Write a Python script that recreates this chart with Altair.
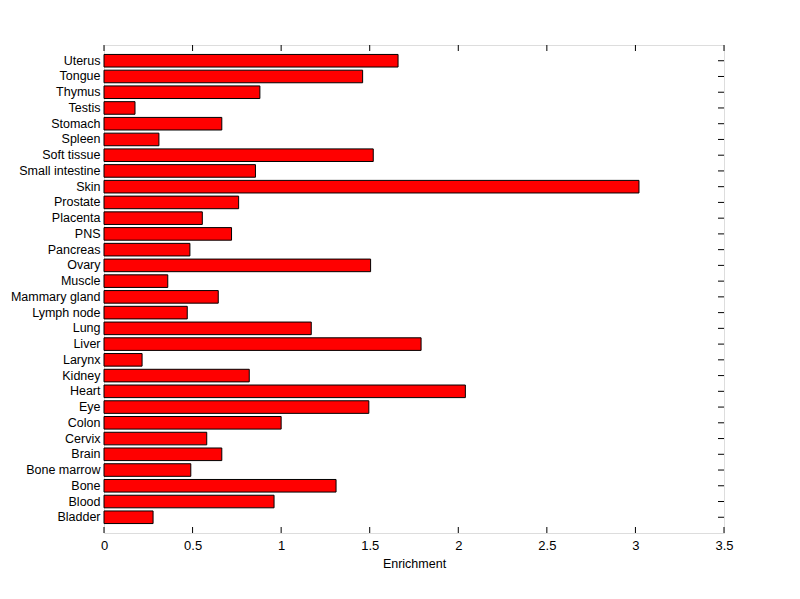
import altair as alt
import pandas as pd

tissues = ["Uterus", "Tongue", "Thymus", "Testis", "Stomach", "Spleen", "Soft tissue",
           "Small intestine", "Skin", "Prostate", "Placenta", "PNS", "Pancreas", "Ovary",
           "Muscle", "Mammary gland", "Lymph node", "Lung", "Liver", "Larynx", "Kidney",
           "Heart", "Eye", "Colon", "Cervix", "Brain", "Bone marrow", "Bone", "Blood", "Bladder"]
enrichment = [1.66, 1.46, 0.88, 0.175, 0.665, 0.31, 1.52,
              0.855, 3.02, 0.76, 0.555, 0.72, 0.485, 1.505,
              0.36, 0.645, 0.47, 1.17, 1.79, 0.215, 0.82,
              2.04, 1.495, 1.0, 0.58, 0.665, 0.49, 1.31, 0.96, 0.277]
x_ticks = [0, 0.5, 1, 1.5, 2, 2.5, 3, 3.5]

W, H = 620, 488
FONT = "Liberation Sans"

df = pd.DataFrame({"tissue": tissues, "enrichment": enrichment})
ticks_df = pd.DataFrame({"t": x_ticks})

xscale = alt.Scale(domain=[0, 3.5], nice=False, zero=True)
yscale = alt.Scale(paddingInner=0.2, paddingOuter=0.6)

bars = alt.Chart(df).mark_bar(color="#FF0000", stroke="black", strokeWidth=1).encode(
    x=alt.X("enrichment:Q", scale=xscale,
            axis=alt.Axis(values=x_ticks, title="Enrichment", tickSize=0, labelPadding=6,
                          titlePadding=5, grid=False, domain=False,
                          labelFontSize=13, titleFontSize=12.5, labelFont=FONT, titleFont=FONT,
                          labelColor="black", titleColor="black", titleFontWeight="normal",
                          format="~g", labelFlush=False)),
    y=alt.Y("tissue:N", sort=tissues, scale=yscale,
            axis=alt.Axis(title=None, tickSize=0, labelPadding=4, domain=False,
                          labelFontSize=12.5, labelFont=FONT, labelColor="black")),
)

bottom_ticks = alt.Chart(ticks_df).mark_rule(color="black", strokeWidth=1).encode(
    x=alt.X("t:Q", scale=xscale), y=alt.value(H), y2=alt.value(H - 6))
top_ticks = alt.Chart(ticks_df).mark_rule(color="black", strokeWidth=1).encode(
    x=alt.X("t:Q", scale=xscale), y=alt.value(0), y2=alt.value(6))
right_ticks = alt.Chart(df).mark_rule(color="black", strokeWidth=1).encode(
    y=alt.Y("tissue:N", sort=tissues, scale=yscale), x=alt.value(W - 6), x2=alt.value(W))

chart = alt.layer(bars, bottom_ticks, top_ticks, right_ticks).properties(
    width=W, height=H,
    autosize=alt.AutoSizeParams(type="none"),
    padding={"left": 96, "top": 37, "right": 60, "bottom": 50},
).configure_view(stroke="black", strokeWidth=1).configure(background="white")

chart.save("out.html", embed_options={"renderer": "svg", "actions": False})
